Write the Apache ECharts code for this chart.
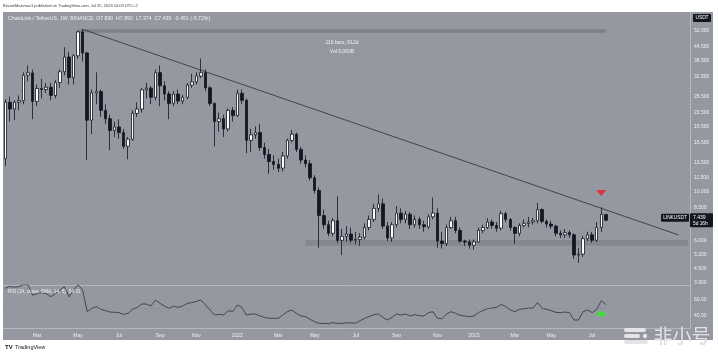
<!DOCTYPE html>
<html><head><meta charset="utf-8">
<script src="https://cdn.jsdelivr.net/npm/echarts@6/dist/echarts.min.js"></script>
<style>html,body{margin:0;padding:0;background:#fff}#c{width:718px;height:356px}</style>
</head><body><div id="c"></div>
<script>
// ---------- data ----------
const startDate = '2021-01-11';   // first weekly bar
const futureWeeks = 18;           // empty weeks to the right of the last bar
const opens  = [14.0,25.0,23.3,25.0,25.4,33.0,33.8,25.2,28.8,28.5,29.2,26.8,30.6,34.2,39.8,32.2,40.3,51.5,41.5,20.8,27.5,27.9,23.0,21.1,18.7,19.4,18.3,15.9,17.1,22.3,23.3,28.4,28.9,26.3,33.9,29.6,27.2,24.7,27.2,25.3,26.3,29.8,30.8,32.7,33.9,29.0,24.7,20.5,21.1,19.0,23.0,21.8,27.4,25.5,16.9,17.9,18.3,15.7,14.6,13.6,13.2,12.7,14.4,16.9,18.0,15.4,13.8,13.3,11.5,10.1,7.8,7.1,6.5,7.4,6.05,6.3,6.45,6.05,6.1,6.25,6.9,7.5,8.4,8.8,7.0,6.2,7.1,8.0,7.5,7.9,7.1,7.5,7.1,6.95,7.7,8.0,6.0,5.85,6.9,7.4,6.7,6.0,5.95,5.75,5.95,6.7,6.9,7.3,7.05,6.85,7.95,7.5,6.9,6.5,7.05,7.2,7.3,7.4,8.3,7.35,7.15,7.0,6.5,6.4,6.55,6.4,5.2,5.25,6.15,6.4,6.05,6.9,7.89];
const highs  = [25.8,26.5,25.5,26.8,34.0,36.5,35.0,30.0,31.8,30.5,30.5,31.5,35.0,44.0,42.0,41.0,52.2,52.9,42.0,28.5,34.0,28.5,24.5,22.0,20.5,21.0,19.0,17.5,23.0,25.0,29.0,30.5,29.5,35.0,36.5,31.0,28.0,28.0,28.5,27.0,30.5,33.5,34.0,39.2,35.0,29.5,25.0,22.5,22.0,23.5,23.8,28.5,28.5,26.0,19.0,19.5,20.0,16.5,15.5,14.5,14.0,15.0,17.2,18.8,18.3,15.8,14.5,13.8,11.8,10.4,8.3,7.4,7.6,9.5,6.8,7.0,6.9,6.6,6.5,7.2,7.8,8.8,9.7,9.3,7.3,7.3,8.6,8.4,8.2,8.1,7.8,7.7,7.4,7.9,9.4,8.4,6.6,7.1,7.7,7.7,6.9,6.1,6.1,6.1,6.9,7.1,7.6,7.5,7.3,8.2,8.1,7.6,7.0,7.2,7.5,7.7,7.6,8.9,8.4,7.5,7.4,7.1,6.7,6.8,6.7,6.5,5.6,6.35,6.6,6.6,7.3,8.5,7.89];
const lows   = [13.0,20.5,20.8,23.0,24.5,31.0,21.0,24.0,26.0,27.5,25.5,26.0,29.0,33.0,30.0,30.0,39.0,38.0,13.8,18.0,24.5,21.5,20.0,15.3,17.5,17.2,15.5,13.9,16.8,21.5,22.5,26.0,24.5,25.5,24.0,25.5,21.0,24.0,24.5,24.5,25.8,29.0,30.0,32.0,28.0,24.0,15.9,18.5,17.5,18.5,20.5,21.5,24.5,14.8,15.0,17.2,15.2,14.0,12.0,12.5,12.2,12.3,14.0,16.5,15.0,13.3,12.8,11.2,9.8,5.6,6.8,6.3,6.3,5.9,5.2,5.95,5.9,5.8,5.7,6.1,6.7,7.3,8.1,6.8,6.0,5.95,6.9,7.2,7.2,6.8,6.9,6.8,6.6,6.8,7.5,5.6,5.55,5.7,6.8,6.5,5.9,5.7,5.55,5.5,5.9,6.5,6.8,6.8,6.6,6.7,7.3,6.7,5.85,6.3,6.9,6.9,7.1,7.2,7.2,6.9,6.8,6.3,6.2,6.2,6.2,5.0,4.8,5.1,6.0,5.9,5.95,6.6,7.374];
const closes = [25.0,23.3,25.0,25.4,33.0,33.8,25.2,28.8,28.5,29.2,26.8,30.6,34.2,39.8,32.2,40.3,51.5,41.5,20.8,27.5,27.9,23.0,21.1,18.7,19.4,18.3,15.9,17.1,22.3,23.3,28.4,28.9,26.3,33.9,29.6,27.2,24.7,27.2,25.3,26.3,29.8,30.8,32.7,33.9,29.0,24.7,20.5,21.1,19.0,23.0,21.8,27.4,25.5,16.9,17.9,18.3,15.7,14.6,13.6,13.2,12.7,14.4,16.9,18.0,15.4,13.8,13.3,11.5,10.1,7.8,7.1,6.5,7.4,6.05,6.3,6.45,6.05,6.1,6.25,6.9,7.5,8.4,8.8,7.0,6.2,7.1,8.0,7.5,7.9,7.1,7.5,7.1,6.95,7.7,8.0,6.0,5.85,6.9,7.4,6.7,6.0,5.95,5.75,5.95,6.7,6.9,7.3,7.05,6.85,7.95,7.5,6.9,6.5,7.05,7.2,7.3,7.4,8.3,7.35,7.15,7.0,6.5,6.4,6.55,6.4,5.2,5.25,6.15,6.4,6.05,6.9,7.89,7.439];
const rsiValues = [74.6,77,76,76.7,79,79,66,68,69,68,64,68,72.5,76.7,64,72.5,79,72.5,45.4,49.6,51.7,48.3,46.7,45,44.6,44.2,42,43.3,48.3,50.8,55,55,52.5,60,55.8,52.5,49.6,52.5,50.8,52.5,55.8,56.7,58.3,60,53.75,47.5,41.25,42,41.25,46.7,45.4,53.75,50.8,41.25,42.5,42.5,40,38.3,37.1,37.1,37.1,41.25,45.4,47.5,43.3,40,39.2,35.8,32.9,30.8,30.8,30.4,31.7,30.8,30.8,31.7,31.2,31.2,34.2,37.1,39.2,41.7,42.5,38.3,35,38.3,42.5,41.25,42.5,40,41.7,40.4,40,44.2,45.4,37.1,36.7,42.5,45.4,43.3,40.8,40,39.2,40,44.2,46.7,49.2,50,50.8,54.6,51.7,47.5,45.4,48.3,49.2,49.6,50,56.7,49.6,48.3,46.7,44.6,44.2,45,44.2,35,35,45.4,47.5,44.2,48.3,59.2,54.3];
const priceTicks = [52, 44.5, 38.5, 32.5, 26.5, 22.5, 19.5, 16.5, 13.5, 11.5, 10, 8.5, 6, 5.2, 4.5, 3.9];
const rsiTicks = [60, 40];
const xTickDates = ['2021-03-01','2021-05-03','2021-07-05','2021-09-06','2021-11-01','2022-01-03','2022-03-07','2022-05-02','2022-07-04','2022-09-05','2022-11-07','2023-01-02','2023-03-06','2023-05-01','2023-07-03'];
const xTickTexts = ['Mar','May','Jul','Sep','Nov','2022','Mar','May','Jul','Sep','Nov','2023','Mar','May','Jul'];
const trendLine = [['2021-05-10', 52.9], ['2023-11-13', 6.39]];
const supportFrom = '2022-04-18', supportLow = 5.72, supportHigh = 6.07;
const rangeFrom = '2021-05-03', rangeTo = '2023-07-24', rangeLow = 51.1, rangeHigh = 52.9;
const rangeText = '116 bars, 812d\nVol 5.083B';
const signalDown = [['2023-07-17', 9.84]];
const rsiMark = [['2023-07-17', 42.5]];
const rsiMid = 50;
const headerText = 'BitcoinMaximus1 published on TradingView.com, Jul 25, 2023 10:03 UTC+2';
const legendText = 'ChainLink / TetherUS, 1W, BINANCE  O7.890  H7.890  L7.374  C7.439  -0.451 (-5.72%)';
const rsiLegend = 'RSI (14, close, SMA, 14, 5)  54.31';

// ---------- build ----------
const cats = [];
const t0 = Date.parse(startDate + 'T00:00:00Z');
for (let i = 0; i < opens.length + futureWeeks; i++) cats.push(new Date(t0 + i * 7 * 864e5).toISOString().slice(0, 10));
const candles = opens.map((o, i) => [o, closes[i], lows[i], highs[i]]);

const BG = '#9598a1', DARK = '#131722', LIGHT = '#eef0f4', SEP = '#b4b7c0';
const FONT = 'Liberation Sans, Arial, sans-serif';
const chart = echarts.init(document.getElementById('c'), null, {renderer: 'canvas'});

chart.setOption({
  backgroundColor: BG,
  animation: false,
  grid: [
    {left: 3, right: 28, top: 12, height: 273},
    {left: 3, right: 28, top: 285, height: 43}
  ],
  xAxis: [
    {type: 'category', data: cats, gridIndex: 0, boundaryGap: true,
     axisLine: {show: true, lineStyle: {color: SEP, width: 1}}, axisTick: {show: false},
     axisLabel: {show: false}, splitLine: {show: false}},
    {type: 'category', data: cats, gridIndex: 1, boundaryGap: true,
     axisLine: {show: true, lineStyle: {color: SEP, width: 1}}, axisTick: {show: false},
     axisLabel: {show: true, interval: (idx, val) => xTickDates.includes(val),
       formatter: v => xTickTexts[xTickDates.indexOf(v)], color: LIGHT, fontSize: 5, margin: 5, fontFamily: FONT},
     splitLine: {show: false}}
  ],
  yAxis: [
    {type: 'log', gridIndex: 0, position: 'right', min: 3.822, max: 63.2,
     axisLine: {show: true, lineStyle: {color: SEP, width: 1}}, axisTick: {show: false}, splitLine: {show: false},
     axisLabel: {customValues: priceTicks, formatter: v => Number(v).toFixed(3), color: LIGHT, fontSize: 5, margin: 4, align: 'left', fontFamily: FONT}},
    {type: 'value', gridIndex: 1, position: 'right', min: 25, max: 78.75,
     axisLine: {show: true, lineStyle: {color: SEP, width: 1}}, axisTick: {show: false}, splitLine: {show: false},
     axisLabel: {customValues: rsiTicks, formatter: v => Number(v).toFixed(2), color: LIGHT, fontSize: 5, margin: 4, align: 'left', fontFamily: FONT}}
  ],
  series: [
    {type: 'candlestick', xAxisIndex: 0, yAxisIndex: 0, data: candles, barWidth: 3,
     itemStyle: {color: '#ffffff', color0: DARK, borderColor: DARK, borderColor0: DARK, borderWidth: 0.8},
     markArea: {silent: true, data: [
       [{xAxis: supportFrom, yAxis: supportHigh, itemStyle: {color: 'rgba(100,103,113,0.32)'}}, {xAxis: cats[cats.length - 1], yAxis: supportLow}],
       [{xAxis: rangeFrom, yAxis: rangeHigh, itemStyle: {color: 'rgba(100,103,113,0.5)'},
         label: {show: true, position: 'bottom', distance: 6, formatter: rangeText, color: LIGHT, fontSize: 5, lineHeight: 8.5, fontFamily: FONT}},
        {xAxis: rangeTo, yAxis: rangeLow}]
     ]}},
    {type: 'line', xAxisIndex: 0, yAxisIndex: 0, data: trendLine, symbol: 'none',
     lineStyle: {color: '#2a2e39', width: 0.8}, silent: true, z: 3},
    {type: 'scatter', xAxisIndex: 0, yAxisIndex: 0, data: signalDown, symbol: 'triangle', symbolRotate: 180,
     symbolSize: [10, 6], itemStyle: {color: '#ee1d23'}, z: 4},
    {type: 'line', xAxisIndex: 1, yAxisIndex: 1, data: rsiValues, symbol: 'none', clip: true,
     lineStyle: {color: '#3a3d46', width: 0.9},
     markLine: {silent: true, symbol: 'none', label: {show: false},
       lineStyle: {color: 'rgba(125,128,138,0.7)', type: [1, 2], width: 0.8}, data: [{yAxis: rsiMid}]}},
    {type: 'scatter', xAxisIndex: 1, yAxisIndex: 1, data: rsiMark, symbol: 'roundRect',
     symbolSize: [9, 5], itemStyle: {color: '#33e633'}, z: 4}
  ]
});

const lastClose = closes[closes.length - 1];
const yLast = chart.convertToPixel({yAxisIndex: 0}, lastClose);

const g = [];
// white outer margins
g.push({type: 'rect', shape: {x: 0, y: 0, width: 718, height: 12}, style: {fill: '#fff'}, z: 100});
g.push({type: 'rect', shape: {x: 0, y: 340, width: 718, height: 16}, style: {fill: '#fff'}, z: 100});
g.push({type: 'rect', shape: {x: 0, y: 0, width: 3, height: 356}, style: {fill: '#fff'}, z: 100});
g.push({type: 'rect', shape: {x: 713, y: 0, width: 5, height: 356}, style: {fill: '#fff'}, z: 100});
// header and legends
g.push({type: 'text', x: 3, y: 5.5, style: {text: headerText, fill: '#3a3a3a', fontSize: 4, fontFamily: FONT, verticalAlign: 'middle'}, z: 101});
g.push({type: 'text', x: 8, y: 19, style: {text: legendText, fill: LIGHT, fontSize: 5.2, fontFamily: FONT, verticalAlign: 'middle'}, z: 101});
g.push({type: 'text', x: 8, y: 292, style: {text: rsiLegend, fill: LIGHT, fontSize: 4.8, fontFamily: FONT, verticalAlign: 'middle'}, z: 101});
// USDT tag
g.push({type: 'rect', shape: {x: 693, y: 14, width: 18, height: 8, r: 1}, style: {fill: DARK}, z: 101});
g.push({type: 'text', x: 702, y: 18, style: {text: 'USDT', fill: '#fff', fontSize: 4.8, fontFamily: FONT, align: 'center', verticalAlign: 'middle'}, z: 102});
// last price tag
g.push({type: 'rect', shape: {x: 690, y: yLast - 7, width: 23, height: 14, r: 1}, style: {fill: DARK}, z: 101});
g.push({type: 'text', x: 693, y: yLast - 3, style: {text: lastClose.toFixed(3), fill: '#fff', fontSize: 5, fontFamily: FONT, verticalAlign: 'middle'}, z: 102});
g.push({type: 'text', x: 693, y: yLast + 3.5, style: {text: '5d 16h', fill: '#fff', fontSize: 4.8, fontFamily: FONT, verticalAlign: 'middle'}, z: 102});
g.push({type: 'rect', shape: {x: 661, y: yLast - 6.5, width: 28, height: 8, r: 1}, style: {fill: DARK}, z: 101});
g.push({type: 'text', x: 675, y: yLast - 2.5, style: {text: 'LINKUSDT', fill: '#fff', fontSize: 4.8, fontFamily: FONT, align: 'center', verticalAlign: 'middle'}, z: 102});
// footer TradingView logo
g.push({type: 'text', x: 5, y: 347, style: {text: 'TV', fill: DARK, fontSize: 6, fontWeight: 'bold', fontFamily: FONT, verticalAlign: 'middle'}, z: 101});
g.push({type: 'text', x: 15, y: 347, style: {text: 'TradingView', fill: DARK, fontSize: 5.5, fontFamily: FONT, verticalAlign: 'middle'}, z: 101});
// watermark
g.push({type: 'rect', shape: {x: 624, y: 328, width: 22, height: 4, r: 2}, style: {fill: 'rgba(236,236,240,0.9)'}, z: 102});
g.push({type: 'rect', shape: {x: 624, y: 334, width: 16, height: 4, r: 2}, style: {fill: 'rgba(236,236,240,0.9)'}, z: 102});
g.push({type: 'circle', shape: {cx: 645, cy: 336, r: 2.2}, style: {fill: 'rgba(236,236,240,0.9)'}, z: 102});
g.push({type: 'rect', shape: {x: 624, y: 340, width: 24, height: 4, r: 2}, style: {fill: 'rgba(225,225,230,0.9)'}, z: 102});
g.push({type: 'text', x: 682, y: 336, style: {text: '非小号', fill: 'rgba(232,232,236,0.92)', stroke: 'rgba(150,150,155,0.6)', lineWidth: 0.5, fontSize: 19, fontFamily: 'Noto Sans CJK SC', align: 'center', verticalAlign: 'middle'}, z: 102});

chart.setOption({graphic: g});
</script>
</body></html>
